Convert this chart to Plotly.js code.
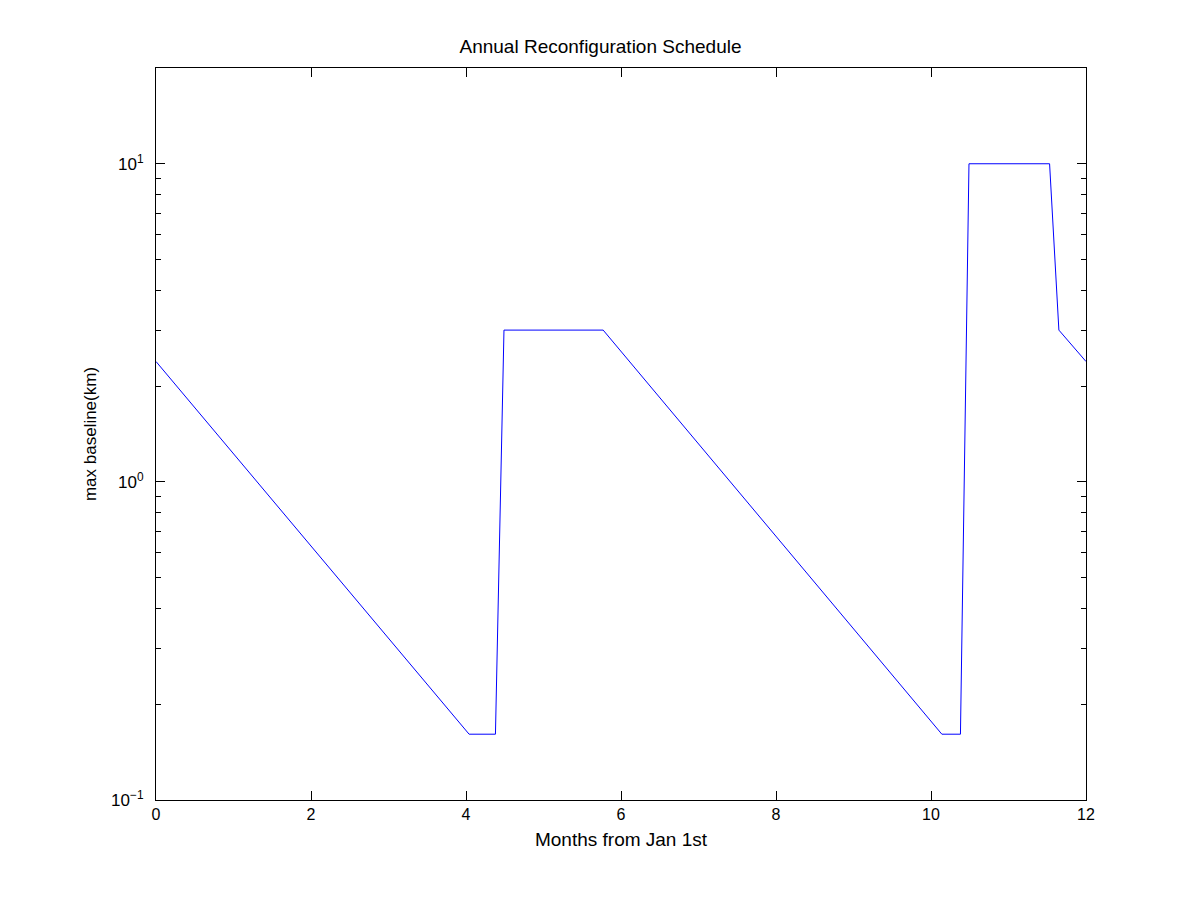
<!DOCTYPE html>
<html>
<head>
<meta charset="utf-8">
<script src="https://cdn.plot.ly/plotly-3.0.1.min.js"></script>
<style>html,body{margin:0;padding:0;background:#fff;}#chart{width:1201px;height:899px;}</style>
</head>
<body>
<div id="chart"></div>
<script>
var months = [0, 4.04, 4.38, 4.49, 5.77, 10.14, 10.38, 10.49, 11.53, 11.65, 12];
var maxBaseline = [2.39, 0.161, 0.161, 3.0, 3.0, 0.161, 0.161, 10, 10, 3.0, 2.39];
var yTickVals = [0.1, 1, 10];
var yTickText = ['10<sup>\u22121</sup>', '10<sup>0</sup>', '10<sup>1</sup>'];
var yMinorVals = [0.2,0.3,0.4,0.5,0.6,0.7,0.8,0.9,2,3,4,5,6,7,8,9,20];
var xTickVals = [0, 2, 4, 6, 8, 10, 12];

var fam = 'Liberation Sans, Arial, Helvetica, sans-serif';

Plotly.newPlot('chart', [{
  x: months, y: maxBaseline, type: 'scatter', mode: 'lines',
  line: {color: '#0000ff', width: 1}, hoverinfo: 'x+y'
}], {
  width: 1201, height: 899,
  paper_bgcolor: '#fff', plot_bgcolor: '#fff',
  margin: {l: 156, r: 115, t: 68, b: 99},
  showlegend: false,
  font: {family: fam, size: 16, color: '#000'},
  title: {text: 'Annual Reconfiguration Schedule', x: 0.5, xanchor: 'center', y: 1 - 46/899, yanchor: 'middle', font: {family: fam, size: 19, color: '#000'}},
  xaxis: {
    range: [0, 12], tickvals: xTickVals, ticktext: xTickVals.map(String),
    ticks: 'inside', ticklen: 9, tickwidth: 1, tickcolor: '#000',
    showline: true, linecolor: '#000', linewidth: 1, mirror: 'ticks',
    showgrid: false, zeroline: false,
    tickfont: {family: fam, size: 16, color: '#000'},
    title: {text: 'Months from Jan 1st', standoff: 10, font: {family: fam, size: 19, color: '#000'}}
  },
  yaxis: {
    type: 'log', range: [-1, Math.log10(20)],
    tickmode: 'array', tickvals: yTickVals, ticktext: yTickText,
    ticks: 'inside', ticklen: 9, tickwidth: 1, tickcolor: '#000',
    ticklabelstandoff: 8,
    minor: {tickmode: 'array', tickvals: yMinorVals, ticks: 'inside', ticklen: 5, tickwidth: 1, tickcolor: '#000', showgrid: false},
    showline: true, linecolor: '#000', linewidth: 1, mirror: 'ticks',
    showgrid: false, zeroline: false,
    tickfont: {family: fam, size: 17, color: '#000'},
    title: {text: 'max baseline(km)', standoff: 10, font: {family: fam, size: 17, color: '#000'}}
  }
}, {displayModeBar: false, staticPlot: true});
</script>
</body>
</html>
